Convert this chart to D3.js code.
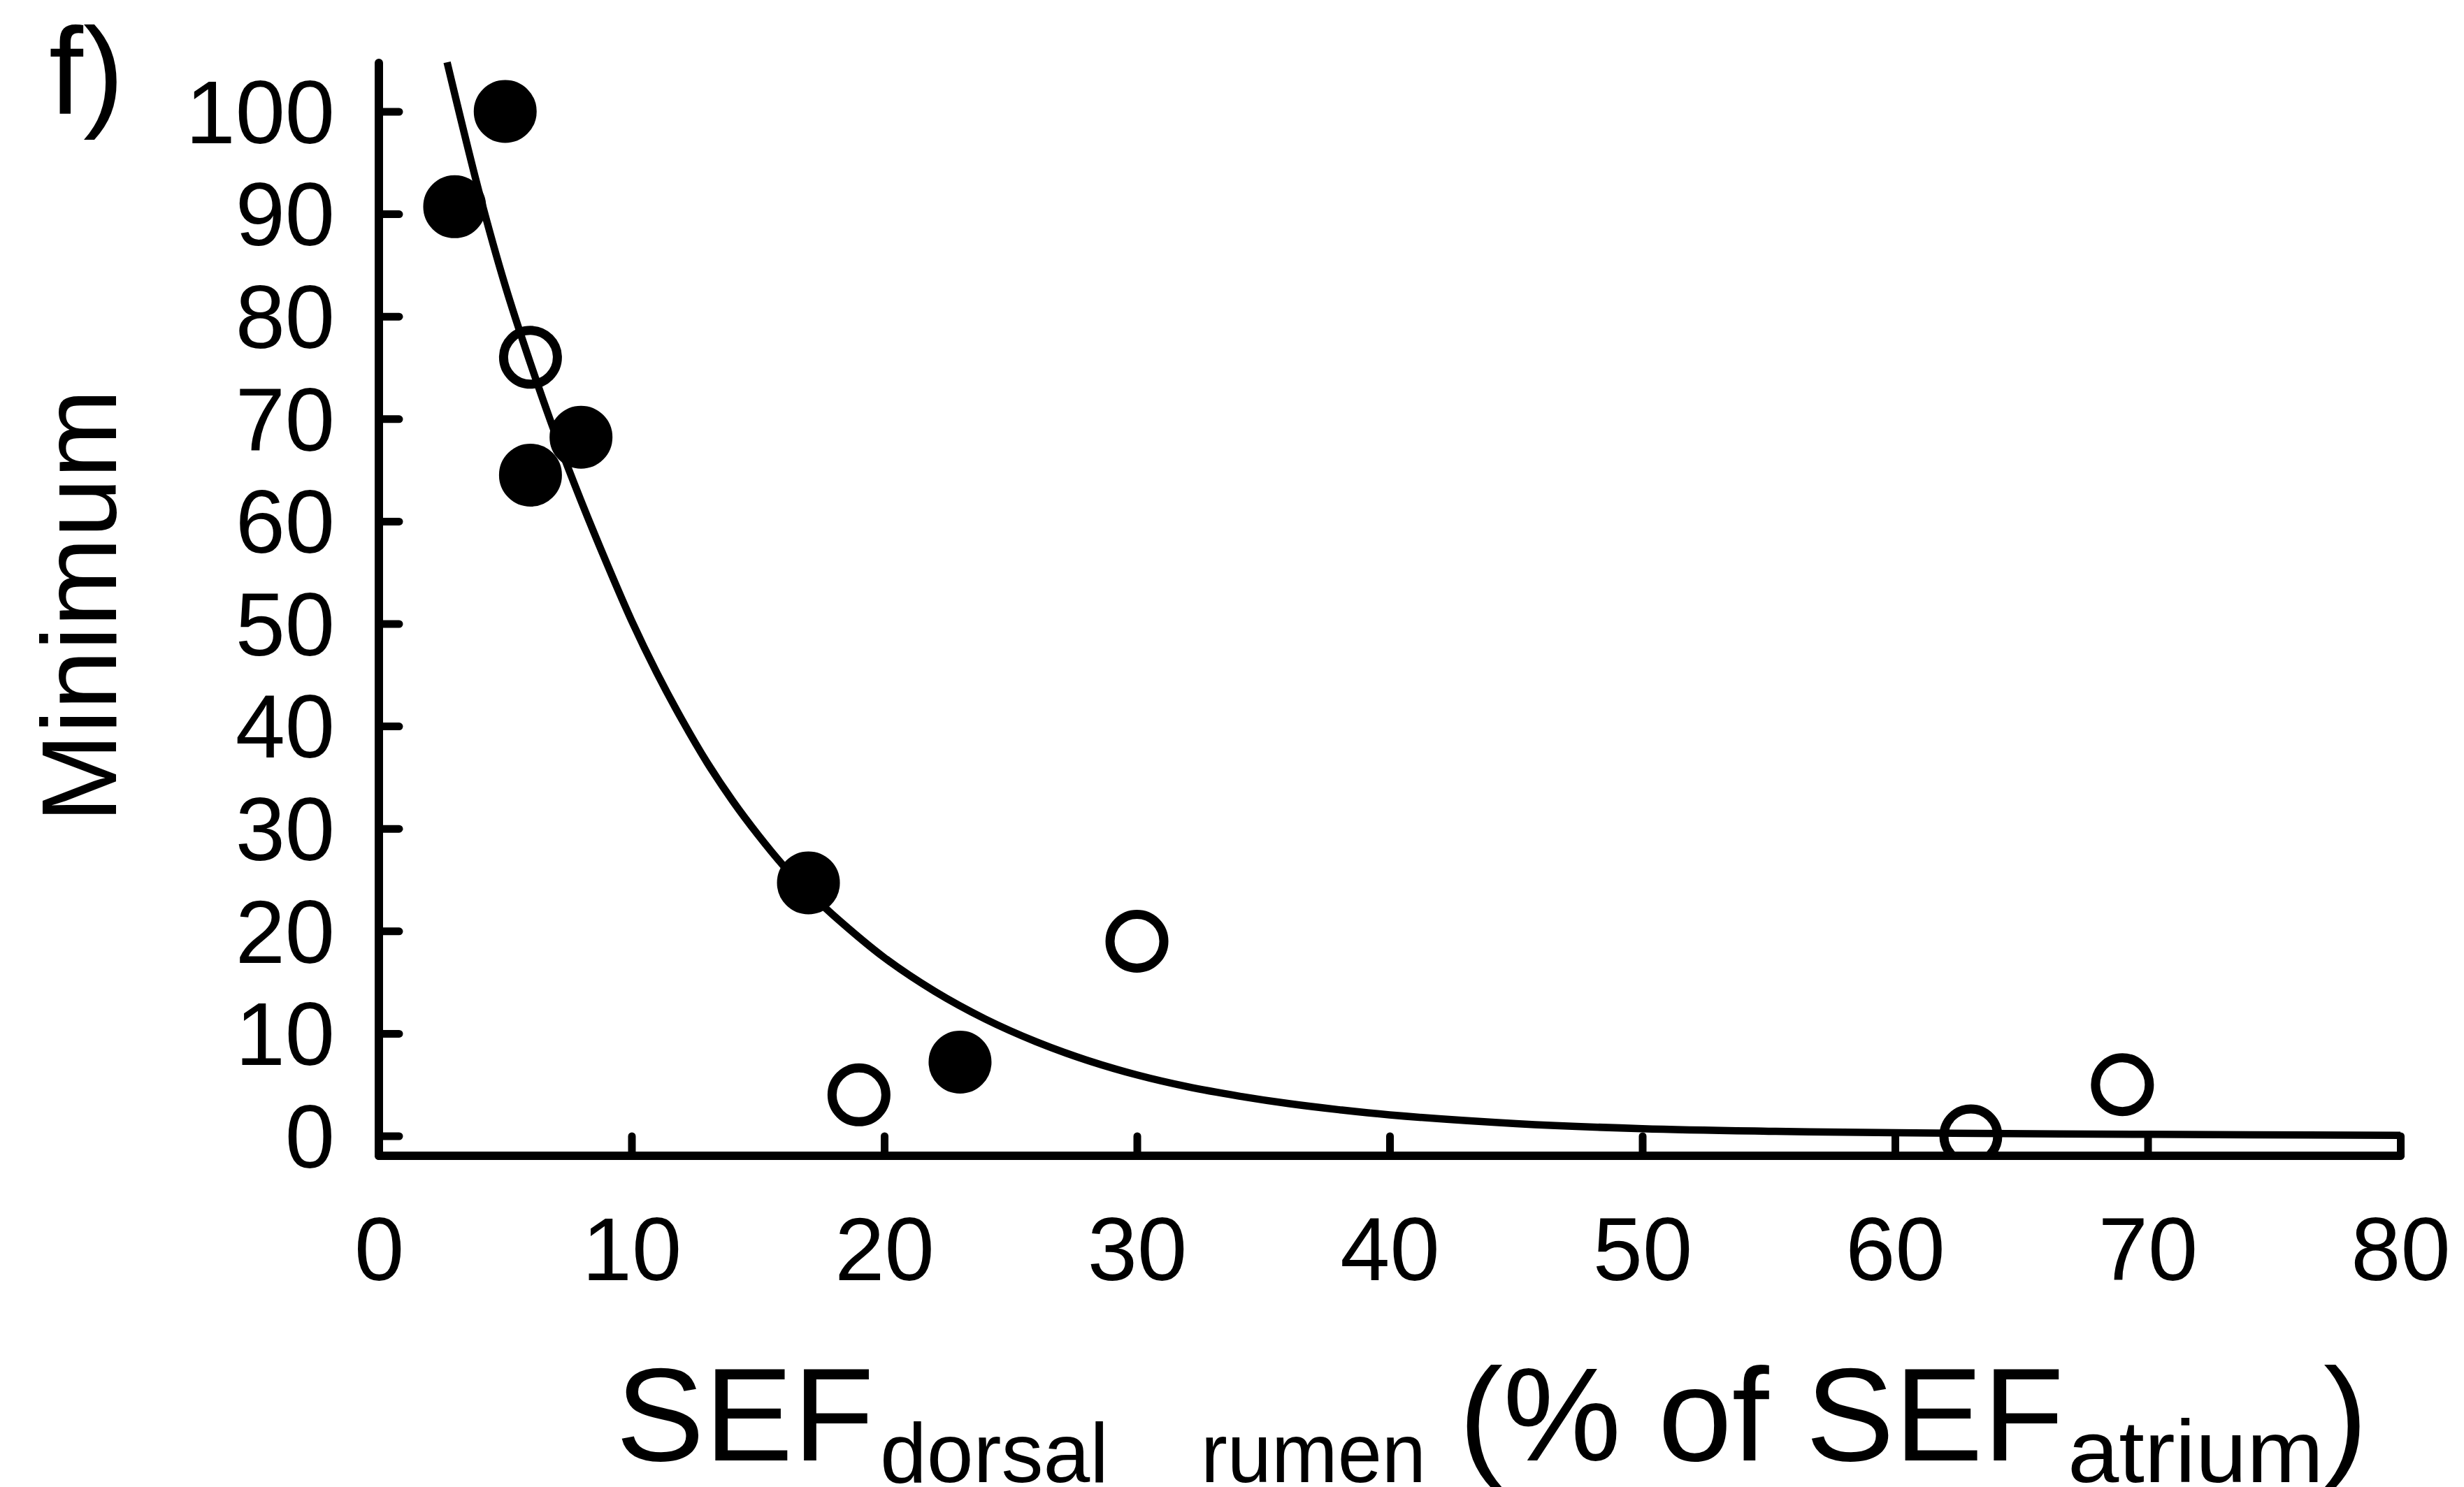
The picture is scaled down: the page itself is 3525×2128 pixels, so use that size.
<!DOCTYPE html>
<html>
<head>
<meta charset="utf-8">
<script src="https://cdn.jsdelivr.net/npm/d3@7"></script>
<style>
    html, body { margin: 0; padding: 0; background: #fff; }
    svg { display: block; }
    text { font-family: "Liberation Sans", Arial, sans-serif; fill: #000; }
</style>
</head>
<body>
<svg id="chart" width="3525" height="2128"></svg>
<script>
// ====== DATA ======
// filled circles
const filledX = [5, 3, 8, 6, 17, 23];
const filledY = [100, 90.7, 68.2, 64.5, 24.7, 7.2];

// open circles
const openX = [6, 19, 30, 63, 69];
const openY = [76, 4, 19, 0, 5];

// fitted decay curve
const fitX = [2.7, 4, 5, 6, 7, 8, 9, 10, 11, 12, 13, 14, 15, 16, 17, 18, 20, 22, 24, 26, 28, 30,
    32, 34, 36, 38, 40, 45, 50, 55, 60, 70, 80];
const fitY = [104.8, 91.8, 83.0, 75.4, 68.4, 62.0, 56.0, 50.3, 45.2, 40.6, 36.4, 32.7, 29.4, 26.4, 23.8, 21.5, 17.4, 14.1, 11.4, 9.2, 7.4, 5.95,
    4.8, 3.9, 3.15, 2.55, 2.05, 1.2, 0.7, 0.45, 0.3, 0.15, 0.05];

const xTicks = [0, 10, 20, 30, 40, 50, 60, 70, 80];
const yTicks = [0, 10, 20, 30, 40, 50, 60, 70, 80, 90, 100];

// ====== SETUP ======
const svg = d3.select('#chart');
svg.append('rect').attr('width', 3525).attr('height', 2128).attr('fill', '#fff');

const x = d3.scaleLinear().domain([0, 80]).range([542, 3434]);
const y = d3.scaleLinear().domain([0, 100]).range([1625.5, 159.5]);

const axisY = 1654;   // x-axis line sits a bit below y = 0
const lineW = 12;

// ====== AXES ======
const gy = svg.append('g')
    .attr('transform', `translate(${x(0)},0)`)
    .call(d3.axisLeft(y).tickValues(yTicks).tickSize(-29).tickPadding(63));

const gx = svg.append('g')
    .attr('transform', `translate(0,${axisY})`)
    .call(d3.axisBottom(x).tickValues(xTicks).tickSize(-30).tickPadding(87));

[gy, gx].forEach(g => {
    g.select('.domain').remove();
    g.selectAll('.tick line')
        .attr('stroke', '#000')
        .attr('stroke-width', 11)
        .attr('stroke-linecap', 'round');
    g.selectAll('.tick text')
        .attr('font-size', 128)
        .attr('font-family', '"Liberation Sans", Arial, sans-serif')
        .attr('fill', '#000');
});
gy.selectAll('.tick text').attr('dy', '0.35em');
gx.selectAll('.tick line').attr('y2', -28);

// axis lines
svg.append('line')
    .attr('x1', x(0)).attr('x2', x(0))
    .attr('y1', 90).attr('y2', axisY)
    .attr('stroke', '#000').attr('stroke-width', lineW).attr('stroke-linecap', 'round');

svg.append('line')
    .attr('x1', x(0)).attr('x2', x(80))
    .attr('y1', axisY).attr('y2', axisY)
    .attr('stroke', '#000').attr('stroke-width', lineW).attr('stroke-linecap', 'round');

// ====== CURVE ======
const fitData = fitX.map((d, i) => ({ x: d, y: fitY[i] }));

svg.append('path')
    .datum(fitData)
    .attr('fill', 'none')
    .attr('stroke', '#000')
    .attr('stroke-width', 10.5)
    .attr('d', d3.line()
        .x(d => x(d.x))
        .y(d => y(d.y))
        .curve(d3.curveCatmullRom.alpha(0.5)));

// ====== POINTS ======
svg.append('clipPath').attr('id', 'plotClip')
    .append('rect')
    .attr('x', 0).attr('y', 0)
    .attr('width', 3525).attr('height', axisY - 2);

const pts = svg.append('g').attr('clip-path', 'url(#plotClip)');

pts.selectAll('.open')
    .data(openX.map((d, i) => ({ x: d, y: openY[i] })))
    .enter()
    .append('circle')
    .attr('cx', d => x(d.x))
    .attr('cy', d => y(d.y))
    .attr('r', 38.5)
    .attr('fill', 'none')
    .attr('stroke', '#000')
    .attr('stroke-width', 13);

pts.selectAll('.filled')
    .data(filledX.map((d, i) => ({ x: d, y: filledY[i] })))
    .enter()
    .append('circle')
    .attr('cx', d => x(d.x))
    .attr('cy', d => y(d.y))
    .attr('r', 38.5)
    .attr('fill', '#000')
    .attr('stroke', '#000')
    .attr('stroke-width', 13);

// ====== LABELS ======
svg.append('text')
    .attr('x', 70).attr('y', 163)
    .attr('font-size', 176)
    .text('f)');

svg.append('text')
    .attr('transform', 'translate(166,867) rotate(-90)')
    .attr('text-anchor', 'middle')
    .attr('font-size', 153)
    .text('Minimum');

const title = svg.append('text');
title.append('tspan').attr('x', 881).attr('y', 2090).attr('font-size', 190).text('SEF');
title.append('tspan').attr('x', 1259).attr('y', 2121).attr('font-size', 120).text('dorsal');
title.append('tspan').attr('x', 1718).attr('y', 2121).attr('font-size', 120)
    .attr('textLength', 322).attr('lengthAdjust', 'spacingAndGlyphs').text('rumen');
title.append('tspan').attr('x', 2087).attr('y', 2090).attr('font-size', 190).text('(% of SEF');
title.append('tspan').attr('x', 2958).attr('y', 2121).attr('font-size', 126)
    .attr('textLength', 366).attr('lengthAdjust', 'spacingAndGlyphs').text('atrium');
title.append('tspan').attr('x', 3324).attr('y', 2090).attr('font-size', 190).text(')');
</script>
</body>
</html>
